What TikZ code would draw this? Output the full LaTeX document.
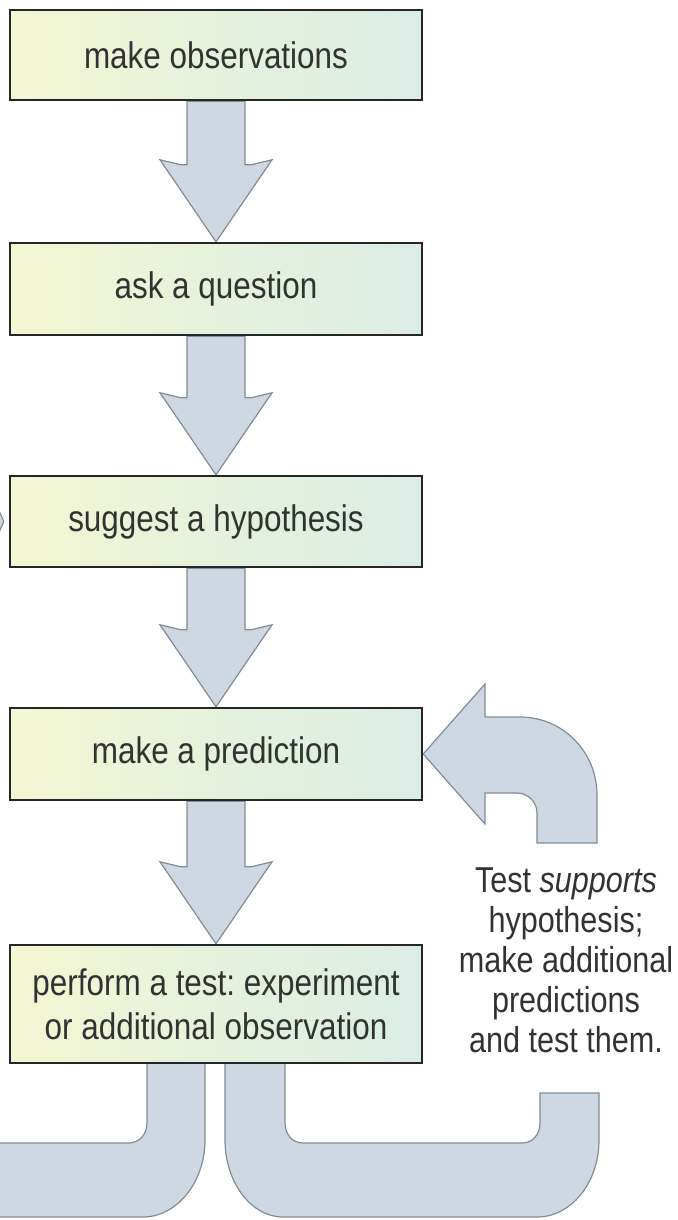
\documentclass[tikz,border=0pt]{standalone}
\usepackage{fontspec}
\setmainfont{Liberation Sans}[FakeStretch=0.85]
\usetikzlibrary{calc}
\pgfdeclarelayer{background}
\pgfsetlayers{background,main}
\definecolor{boxleft}{RGB}{243,246,210}
\definecolor{boxright}{RGB}{218,237,230}
\definecolor{arrowfill}{RGB}{205,216,226}
\definecolor{arrowline}{RGB}{130,140,150}
\definecolor{textgrey}{RGB}{50,50,50}
\frenchspacing

\begin{document}
\begin{tikzpicture}[x=1pt,y=-1pt,
		stepbox/.style={draw=black!85, line width=2.4pt, left color=boxleft, right color=boxright,
			minimum width=412pt, minimum height=90pt, inner sep=0pt, align=center,
			text=textgrey, font=\fontsize{37}{44}\selectfont},
		notetext/.style={align=center, text=textgrey, font=\fontsize{36}{40}\selectfont},
		blockarrow/.style={draw=arrowline, fill=arrowfill, line width=1.2pt}]
				\useasboundingbox (0,0) rectangle (677,1220);
				\clip (0,0) rectangle (677,1220);
				
				\node[stepbox] (obs) at (216,55) {make observations};
				\node[stepbox, minimum height=92pt] (ques) at (216,289) {ask a question};
				\node[stepbox, minimum height=91pt] (hyp) at (216,521.5) {suggest a hypothesis};
				\node[stepbox, minimum height=92pt] (pred) at (216,754) {make a prediction};
				\node[stepbox, minimum height=118pt] (test) at (216,1004) {perform a test: experiment\\or additional observation};
				
				\node[notetext] (note) at (566,960) {Test \textit{supports}\\hypothesis;\\make additional\\predictions\\and test them.};
				
				\begin{pgfonlayer}{background}
				\foreach \a/\b in {obs/ques,ques/hyp,hyp/pred,pred/test}
					\draw[blockarrow] ($(\a.south)+(-29,0)$) -- ($(\b.north)+(-29,-77)$) -- ($(\b.north)+(-35,-77)$)
						-- ($(\b.north)+(-56,-82)$) -- (\b.north) -- ($(\b.north)+(56,-82)$)
						-- ($(\b.north)+(35,-77)$) -- ($(\b.north)+(29,-77)$) -- ($(\a.south)+(29,0)$) -- cycle;
				
				\draw[blockarrow] (pred.east) -- (485,684) -- (485,717) -- (520,717)
					.. controls (563,717) and (597,752) .. (597,795) -- (597,843) -- (537,843) -- (537,813)
					.. controls (537,802) and (528,793) .. (517,793) -- (485,793) -- (485,824) -- cycle;
				
				\draw[blockarrow] ($(hyp.west)+(-5,0)$) -- ($(hyp.west)+(-45,-90)$) -- ($(hyp.west)+(-45,90)$) -- cycle;
				
				\draw[blockarrow] (147,1063) -- (147,1123) .. controls (147,1134) and (140,1143) .. (128,1143)
					-- (-10,1143) -- (-10,1217) -- (143,1217) .. controls (177,1217) and (205,1182) .. (205,1140)
					-- (205,1063) -- cycle;
				\draw[blockarrow] (225,1063) -- (225,1140) .. controls (225,1182) and (251,1217) .. (283,1217)
					-- (537,1217) .. controls (571,1217) and (599,1183) .. (599,1140) -- (599,1093) -- (540,1093)
					-- (540,1123) .. controls (540,1134) and (533,1143) .. (522,1143) -- (303,1143)
					.. controls (292,1143) and (285,1134) .. (285,1123) -- (285,1063) -- cycle;
				\end{pgfonlayer}
			\end{tikzpicture}
\end{document}
